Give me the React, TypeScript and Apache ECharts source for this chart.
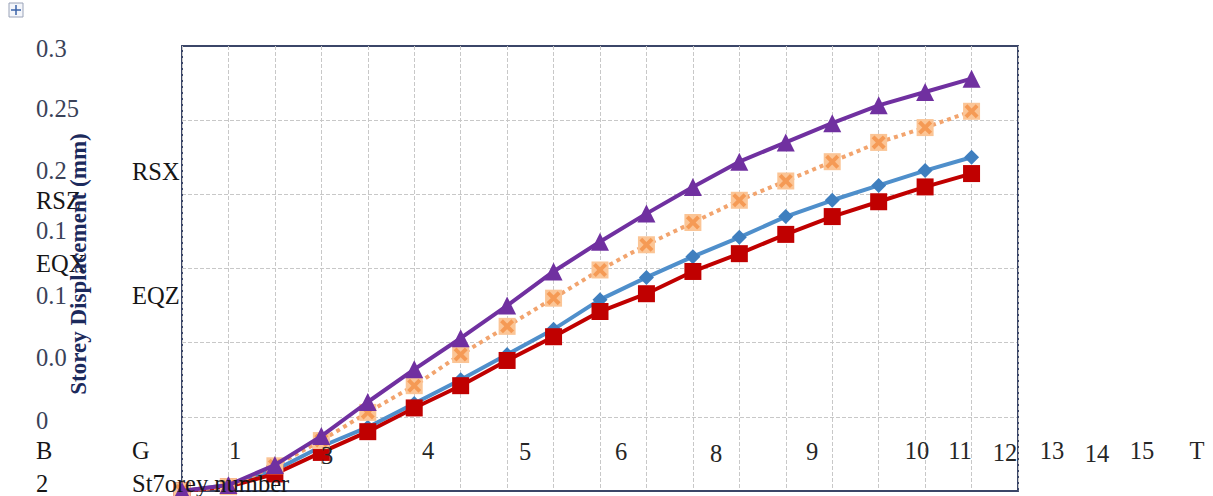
import React, { useEffect, useRef } from "react";
import * as echarts from "echarts";

// ---- data ----
const categories = ["0", "1", "2", "3", "4", "5", "6", "7", "8", "9", "10", "11", "12", "13", "14", "15", "16", "17", "18"];
const rsxValues = [0, 0.004, 0.0175, 0.037, 0.06, 0.082, 0.103, 0.125, 0.148, 0.168, 0.187, 0.205, 0.222, 0.235, 0.248, 0.26, 0.269, 0.278];
const rszValues = [0, 0.003, 0.017, 0.034, 0.053, 0.071, 0.092, 0.111, 0.13, 0.149, 0.166, 0.181, 0.196, 0.209, 0.222, 0.235, 0.245, 0.256];
const eqxValues = [0, 0.004, 0.014, 0.03, 0.043, 0.059, 0.075, 0.092, 0.109, 0.129, 0.144, 0.158, 0.171, 0.185, 0.196, 0.206, 0.216, 0.225];
const eqzValues = [0, 0.003, 0.0115, 0.026, 0.04, 0.056, 0.071, 0.088, 0.104, 0.121, 0.133, 0.148, 0.16, 0.173, 0.185, 0.195, 0.205, 0.214];

const leftColumnTexts = ["0.3", "0.25", "0.2", "RSZ", "0.1", "EQX", "0.1", "0.0", "0", "B", "2"];
const middleColumnTexts = ["RSX", "EQZ", "G", "St7orey number"];
const xTickTexts = ["1", "3", "4", "5", "6", "8", "9", "10", "11", "12", "13", "14", "15", "T"];
const yAxisTitle = "Storey Displacement (mm)";

// ---- layout (positions kept separate from data) ----
const leftColumnY = [48, 108, 170, 200, 230, 263, 295, 357, 420, 450, 483];
const leftColumnFill = ["#3a4258", "#3a4258", "#3a4258", "#161616", "#3a4258", "#161616", "#3a4258", "#3a4258", "#3a4258", "#161616", "#161616"];
const middleColumnY = [171, 295, 450, 483];
const xTickX = [235, 327, 428, 525, 621, 716, 812, 917, 960, 1005, 1052, 1097, 1142, 1197];
const xTickY = [450, 455, 450, 451, 451, 453, 451, 450, 450, 452, 450, 453, 450, 450];

const FONT = '"Liberation Serif", "Times New Roman", serif';
const FS = 24.5;
const BORDER = "#3b4668";

function App() {
  const ref = useRef<HTMLDivElement>(null);
  useEffect(() => {
    if (!ref.current) return;
    const chart = echarts.init(ref.current, null, { renderer: "svg" });

    const graphics: any[] = [];
    leftColumnTexts.forEach((t, i) => {
      graphics.push({
        type: "text",
        z: 100,
        style: { text: t, x: 36, y: leftColumnY[i], fontSize: FS, fontFamily: FONT, fill: leftColumnFill[i], verticalAlign: "middle", align: "left" },
      });
    });
    middleColumnTexts.forEach((t, i) => {
      graphics.push({
        type: "text",
        z: 100,
        style: { text: t, x: 132, y: middleColumnY[i], fontSize: FS, fontFamily: FONT, fill: "#161616", verticalAlign: "middle", align: "left" },
      });
    });
    xTickTexts.forEach((t, i) => {
      graphics.push({
        type: "text",
        z: 100,
        style: { text: t, x: xTickX[i], y: xTickY[i], fontSize: FS, fontFamily: FONT, fill: "#262626", verticalAlign: "middle", align: "center" },
      });
    });
    graphics.push({
      type: "text",
      z: 100,
      x: 78,
      y: 264,
      rotation: Math.PI / 2,
      style: { text: yAxisTitle, fontSize: 23, fontWeight: "bold", fontFamily: FONT, fill: "#1c2a5c", align: "center", verticalAlign: "middle" },
    });
    // small move handle icon at top-left
    graphics.push({ type: "rect", shape: { x: 9, y: 3, width: 14, height: 14 }, style: { fill: "#f4f6fb", stroke: "#9aa3b8", lineWidth: 1 } });
    graphics.push({ type: "line", shape: { x1: 16, y1: 5, x2: 16, y2: 15 }, style: { stroke: "#3b63a8", lineWidth: 1.5 } });
    graphics.push({ type: "line", shape: { x1: 11, y1: 10, x2: 21, y2: 10 }, style: { stroke: "#3b63a8", lineWidth: 1.5 } });

    const xMark = "path://M0,2L2,0L5,3L8,0L10,2L7,5L10,8L8,10L5,7L2,10L0,8L3,5Z";
    const gridLine = { show: true, lineStyle: { color: "#c8c8c8", type: "dashed", width: 1 } };
    const borderLine = { show: true, onZero: false, lineStyle: { color: BORDER, width: 2 } };

    chart.setOption({
      animation: false,
      backgroundColor: "#ffffff",
      grid: { left: 182, top: 46, width: 836, height: 445, show: false },
      xAxis: [
        {
          type: "category",
          data: categories,
          boundaryGap: false,
          position: "bottom",
          axisLine: borderLine,
          axisTick: { show: false },
          axisLabel: { show: false },
          splitLine: { ...gridLine, interval: 0 },
          z: 1,
        },
        {
          type: "category",
          data: categories,
          boundaryGap: false,
          position: "top",
          axisLine: borderLine,
          axisTick: { show: false },
          axisLabel: { show: false },
          splitLine: { show: false },
        },
      ],
      yAxis: [
        {
          type: "value",
          min: 0,
          max: 0.3,
          interval: 0.05,
          position: "left",
          axisLine: borderLine,
          axisTick: { show: false },
          axisLabel: { show: false },
          splitLine: gridLine,
        },
        {
          type: "value",
          min: 0,
          max: 0.3,
          interval: 0.05,
          position: "right",
          axisLine: borderLine,
          axisTick: { show: false },
          axisLabel: { show: false },
          splitLine: { show: false },
        },
      ],
      graphic: graphics,
      series: [
        {
          name: "EQX",
          type: "line",
          data: eqxValues,
          symbol: "diamond",
          symbolSize: 15,
          lineStyle: { color: "#4f8fcb", width: 4 },
          itemStyle: { color: "#3f7fbf" },
          z: 2,
        },
        {
          name: "EQZ",
          type: "line",
          data: eqzValues,
          symbol: "rect",
          symbolSize: 17,
          lineStyle: { color: "#c00000", width: 4 },
          itemStyle: { color: "#c00000" },
          z: 3,
        },
        {
          name: "RSZ",
          type: "line",
          data: rszValues,
          symbol: "rect",
          symbolSize: 17,
          lineStyle: { color: "#f2a46e", width: 4, type: "dotted" },
          itemStyle: { color: "#fbc596" },
          z: 4,
        },
        {
          name: "RSZ marks",
          type: "line",
          data: rszValues,
          symbol: xMark,
          symbolSize: 14,
          lineStyle: { width: 0, opacity: 0 },
          itemStyle: { color: "#f59a55" },
          z: 5,
        },
        {
          name: "RSX",
          type: "line",
          data: rsxValues,
          symbol: "triangle",
          symbolSize: 18,
          lineStyle: { color: "#7030a0", width: 4 },
          itemStyle: { color: "#7030a0" },
          z: 6,
        },
      ],
    });
    return () => chart.dispose();
  }, []);
  return <div ref={ref} style={{ position: "fixed", left: 0, top: 0, width: 1213, height: 496 }} />;
}

export default App;
